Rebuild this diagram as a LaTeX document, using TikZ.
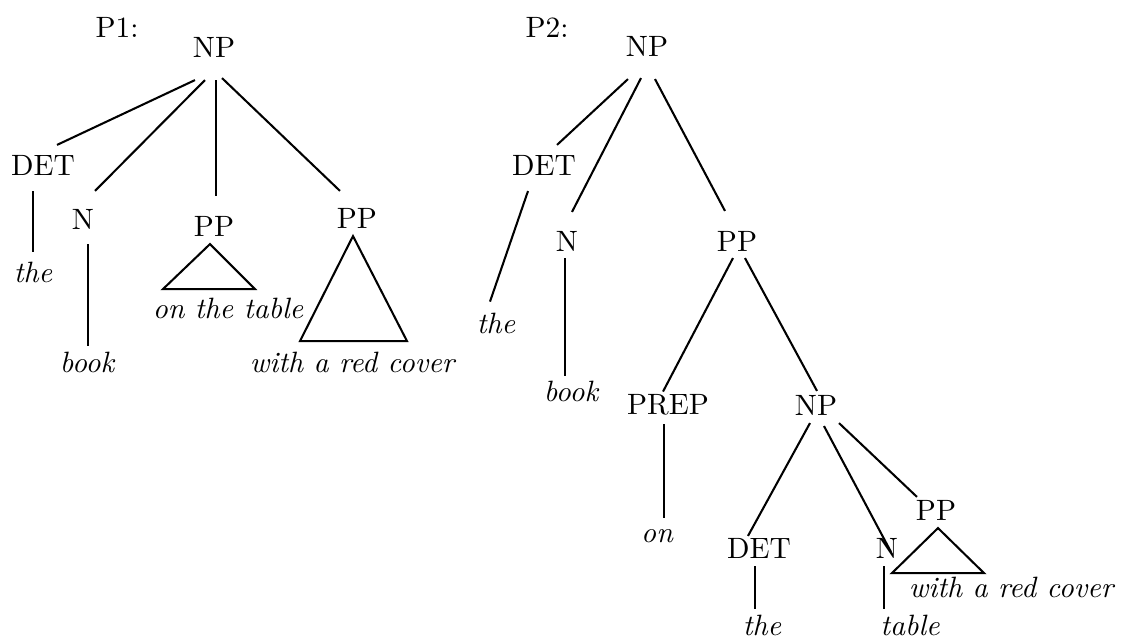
\documentclass[tikz,border=0pt]{standalone}
\usetikzlibrary{calc}
\tikzset{
  cat/.style={inner sep=0pt},
  word/.style={inner sep=0pt, font=\itshape},
}
\begin{document}
\begin{tikzpicture}[x=0.34pt, y=-0.34pt, line width=0.7pt]
\useasboundingbox (0,0) rectangle (1134,637);
% P1
\node[cat] (lblA) at (117,27) {P1:};
\node[cat] (npA) at (214,47) {NP};
\node[cat] (detA) at (43,165) {DET};
\node[cat] (nA) at (83,219) {N};
\node[cat] (ppA) at (214,226) {PP};
\node[cat] (ppB) at (357,218) {PP};
\node[word] (theA) at (33,272) {the};
\node[word] (bookA) at (87,362) {book};
\node[word] (otA) at (228,308) {on the table};
\node[word] (wrcA) at (352,362) {with a red cover};
% P2
\node[cat] (lblB) at (547,27) {P2:};
\node[cat] (npB) at (647,46) {NP};
\node[cat] (detB) at (544,165) {DET};
\node[cat] (nB) at (567,241) {N};
\node[cat] (ppC) at (737,241) {PP};
\node[cat] (prep) at (668,405) {PREP};
\node[cat] (npC) at (816,405) {NP};
\node[cat] (detC) at (759,548) {DET};
\node[cat] (nC) at (887,548) {N};
\node[cat] (ppD) at (936,510) {PP};
\node[word] (theB) at (496,323) {the};
\node[word] (bookB) at (571,391) {book};
\node[word] (onB) at (657,536) {on};
\node[word] (theC) at (762,625) {the};
\node[word] (tableC) at (910,625) {table};
\node[word] (wrcB) at (1011,587) {with a red cover};
% branches: parent.south + shift -- child.north + shift
\foreach \a/\px/\py/\b/\qx/\qy in {
  npA/-19/22/detA/14/-9, npA/-9/22/nA/12/-17, npA/2/22/ppA/2/-19, npA/8/20/ppB/-17/-16,
  detA/-10/15/theA/0/-9, nA/5/14/bookA/1/-5,
  npB/-19/22/detB/13/-9, npB/-6/21/nB/5/-18, npB/8/22/ppC/-12/-19,
  detB/-16/15/theB/-6/-10, nB/-2/6/bookB/-6/-4,
  ppC/-4/6/prep/-5/-2, ppC/8/6/npC/1/-3, prep/-4/8/onB/7/-10,
  npC/-6/7/detC/-11/-1, npC/8/10/nC/4/15, npC/23/7/ppD/-19/-2,
  detC/-4/7/theC/-7/-5, nC/-3/7/tableC/-26/-5} {
  \draw ([shift={(\px,\py)}]\a.south) -- ([shift={(\qx,\qy)}]\b.north);
}
% triangles
\draw ([shift={(-4,7)}]ppA.south) -- ++(-47,45) -- ++(92,0) -- cycle;
\draw ([shift={(-4,7)}]ppB.south) -- ++(-53,105) -- ++(107,0) -- cycle;
\draw ([shift={(2,7)}]ppD.south) -- ++(-46,45) -- ++(92,0) -- cycle;
\end{tikzpicture}
\end{document}
